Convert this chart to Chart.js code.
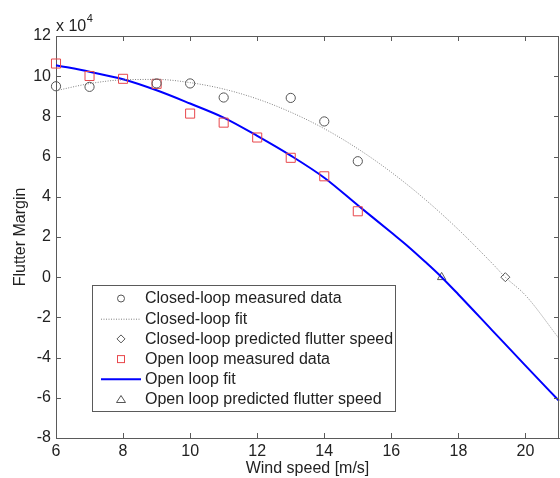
<!DOCTYPE html>
<html><head><meta charset="utf-8">
<script src="https://cdn.jsdelivr.net/npm/chart.js@4.4.0/dist/chart.umd.min.js"></script>
<style>html,body{margin:0;padding:0;background:#fff}#wrap{width:560px;height:478px;position:relative}</style>
</head><body><div id="wrap"><canvas id="c"></canvas></div>
<script>
// Data (Flutter margin in units of 10^4)
const closedSpeed = [6, 7, 9, 10, 11, 13, 14, 15];
const closedMargin = [9.50, 9.47, 9.64, 9.64, 8.94, 8.92, 7.75, 5.77];
const closedFitSpeed = [6, 7, 8, 9, 10, 11, 12, 13, 14, 15, 16, 17, 18, 19, 19.4, 20, 21];
const closedFitMargin = [9.28, 9.63, 9.82, 9.84, 9.68, 9.36, 8.87, 8.21, 7.39, 6.39, 5.22, 3.88, 2.37, 0.70, 0.0, -0.90, -3.05];
const closedFlutterSpeed = [19.4];
const closedFlutterMargin = [0];
const openSpeed = [6, 7, 8, 9, 10, 11, 12, 13, 14, 15];
const openMargin = [10.63, 10.01, 9.87, 9.62, 8.14, 7.69, 6.95, 5.94, 5.02, 3.28];
const openFitSpeed = [6, 7, 8, 9, 10, 11, 12, 13, 14, 15, 16, 16.5, 17, 17.5, 18, 19, 20, 21];
const openFitMargin = [10.55, 10.22, 9.85, 9.30, 8.64, 7.94, 7.03, 6.05, 4.95, 3.58, 2.22, 1.53, 0.78, 0.0, -0.86, -2.63, -4.40, -6.15];
const openFlutterSpeed = [17.5];
const openFlutterMargin = [0];
const xTicks = [6, 8, 10, 12, 14, 16, 18, 20];
const yTicks = [-8, -6, -4, -2, 0, 2, 4, 6, 8, 10, 12];
const legendLabels = ['Closed-loop measured data', 'Closed-loop fit', 'Closed-loop predicted flutter speed',
  'Open loop measured data', 'Open loop fit', 'Open loop predicted flutter speed'];

const FONT = '"Liberation Sans", Arial, Helvetica, sans-serif';
const TEXT = '#222222';
const AXIS = '#5a5a5a';
const GRAYM = '#555555';
const RED = '#e8474c';
const BLUE = '#0000ff';
const DOT = '#808080';

const pts = (xs, ys) => xs.map((v, i) => ({x: v, y: ys[i]}));

const frame = {
  id: 'frame',
  afterDraw(chart) {
    const {ctx, chartArea: a, scales: {x, y}} = chart;
    ctx.save();
    ctx.strokeStyle = AXIS; ctx.lineWidth = 1;
    ctx.beginPath();
    ctx.moveTo(a.left, a.top + 0.5); ctx.lineTo(a.right, a.top + 0.5);
    ctx.moveTo(a.right - 0.5, a.top); ctx.lineTo(a.right - 0.5, a.bottom);
    xTicks.forEach(v => {
      const px = Math.round(x.getPixelForValue(v)) + 0.5;
      ctx.moveTo(px, a.bottom); ctx.lineTo(px, a.bottom - 5);
      ctx.moveTo(px, a.top); ctx.lineTo(px, a.top + 5);
    });
    yTicks.forEach(v => {
      const py = Math.round(y.getPixelForValue(v)) + 0.5;
      ctx.moveTo(a.left, py); ctx.lineTo(a.left + 5, py);
      ctx.moveTo(a.right, py); ctx.lineTo(a.right - 5, py);
    });
    ctx.stroke();

    // exponent label
    ctx.fillStyle = TEXT;
    ctx.textBaseline = 'alphabetic';
    ctx.textAlign = 'left';
    ctx.font = '16px ' + FONT;
    ctx.fillText('x 10', a.left, 31);
    const w = ctx.measureText('x 10').width;
    ctx.font = '11px ' + FONT;
    ctx.fillText('4', a.left + w + 0.5, 22);

    // legend
    const lx = 92.5, ly = 285.5, lw = 303, lh = 126;
    ctx.fillStyle = '#ffffff';
    ctx.fillRect(lx, ly, lw, lh);
    ctx.strokeStyle = AXIS;
    ctx.strokeRect(lx, ly, lw, lh);
    const sx = 121, tx = 145;
    legendLabels.forEach((t, i) => {
      const cy = 298.5 + i * 20.2;
      ctx.save();
      ctx.lineWidth = 1;
      if (i === 0) { ctx.strokeStyle = GRAYM; ctx.beginPath(); ctx.arc(sx, cy, 3.5, 0, Math.PI * 2); ctx.stroke(); }
      if (i === 1) { ctx.strokeStyle = DOT; ctx.setLineDash([1, 1.5]); ctx.beginPath(); ctx.moveTo(101, cy + 0.5); ctx.lineTo(141, cy + 0.5); ctx.stroke(); }
      if (i === 2) { ctx.strokeStyle = GRAYM; ctx.beginPath(); ctx.moveTo(sx, cy - 4); ctx.lineTo(sx + 4, cy); ctx.lineTo(sx, cy + 4); ctx.lineTo(sx - 4, cy); ctx.closePath(); ctx.stroke(); }
      if (i === 3) { ctx.strokeStyle = RED; ctx.strokeRect(sx - 3.5, cy - 3.5, 7, 7); }
      if (i === 4) { ctx.strokeStyle = BLUE; ctx.lineWidth = 2; ctx.beginPath(); ctx.moveTo(101, cy); ctx.lineTo(141, cy); ctx.stroke(); }
      if (i === 5) { ctx.strokeStyle = GRAYM; ctx.beginPath(); ctx.moveTo(sx, cy - 4); ctx.lineTo(sx + 4.5, cy + 3); ctx.lineTo(sx - 4.5, cy + 3); ctx.closePath(); ctx.stroke(); }
      ctx.restore();
      ctx.fillStyle = TEXT;
      ctx.font = '16px ' + FONT;
      ctx.textBaseline = 'middle';
      ctx.fillText(t, tx, cy + 0.5);
    });
    ctx.restore();
  }
};

new Chart(document.getElementById('c'), {
  type: 'scatter',
  data: {
    datasets: [
      {data: pts(closedSpeed, closedMargin), pointStyle: 'circle', pointRadius: 4.6, borderColor: GRAYM, backgroundColor: 'rgba(0,0,0,0)', borderWidth: 1, clip: false},
      {data: pts(closedFitSpeed, closedFitMargin), showLine: true, pointRadius: 0, borderColor: DOT, borderWidth: 1, borderDash: [1, 1.5], cubicInterpolationMode: 'monotone', clip: false},
      {data: pts(closedFlutterSpeed, closedFlutterMargin), pointStyle: 'rectRot', pointRadius: 4.5, borderColor: GRAYM, backgroundColor: 'rgba(0,0,0,0)', borderWidth: 1, clip: false},
      {data: pts(openSpeed, openMargin), pointStyle: 'rect', pointRadius: 6.4, borderColor: RED, backgroundColor: 'rgba(0,0,0,0)', borderWidth: 1, clip: false},
      {data: pts(openFitSpeed, openFitMargin), showLine: true, pointRadius: 0, borderColor: BLUE, borderWidth: 2, cubicInterpolationMode: 'monotone', clip: false},
      {data: pts(openFlutterSpeed, openFlutterMargin), pointStyle: 'triangle', pointRadius: 4.8, borderColor: GRAYM, backgroundColor: 'rgba(0,0,0,0)', borderWidth: 1, clip: false}
    ]
  },
  options: {
    responsive: true,
    maintainAspectRatio: false,
    animation: false,
    layout: {autoPadding: false, padding: {left: 0, right: 1, top: 36, bottom: 0}},
    plugins: {legend: {display: false}, tooltip: {enabled: false}},
    scales: {
      x: {
        type: 'linear', min: 6, max: 21,
        afterBuildTicks: s => { s.ticks = xTicks.map(v => ({value: v})); },
        afterFit: s => { s.height = 40; s.paddingLeft = 0; s.paddingRight = 0; },
        grid: {display: true, drawOnChartArea: false, drawTicks: false},
        border: {display: true, color: AXIS, width: 1},
        ticks: {color: TEXT, font: {family: FONT, size: 16}, padding: 4, maxRotation: 0, autoSkip: false},
        title: {display: true, text: 'Wind speed [m/s]', color: TEXT, font: {family: FONT, size: 16}, padding: {top: 0, bottom: 0}}
      },
      y: {
        type: 'linear', min: -8, max: 12,
        afterBuildTicks: s => { s.ticks = yTicks.map(v => ({value: v})); },
        afterFit: s => { s.width = 56; s.paddingTop = 0; s.paddingBottom = 0; },
        grid: {display: true, drawOnChartArea: false, drawTicks: false},
        border: {display: true, color: AXIS, width: 1},
        ticks: {color: TEXT, font: {family: FONT, size: 16}, padding: 5, autoSkip: false},
        title: {display: true, text: 'Flutter Margin', color: TEXT, font: {family: FONT, size: 16}, padding: {top: 11, bottom: 0}}
      }
    }
  },
  plugins: [frame]
});
</script></body></html>
